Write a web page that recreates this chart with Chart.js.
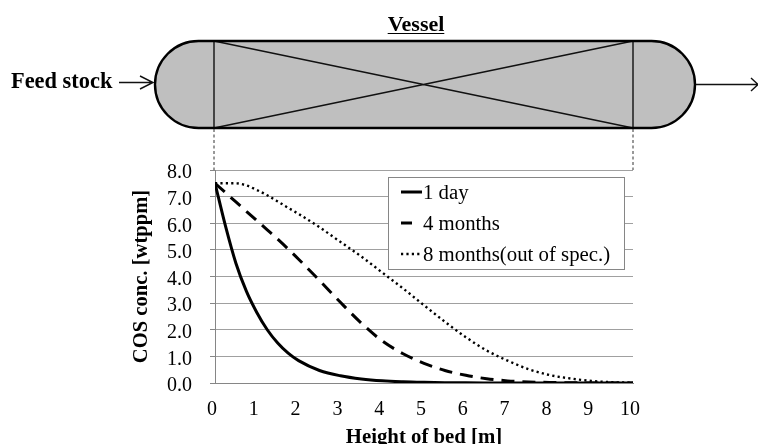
<!DOCTYPE html>
<html><head><meta charset="utf-8">
<script src="https://cdn.jsdelivr.net/npm/chart.js@4"></script>
<style>html,body{margin:0;padding:0;background:#fff}canvas{display:block}</style>
</head><body><canvas id="c" width="758" height="444"></canvas>
<script>
const heights = [0,0.25,0.5,0.75,1,1.25,1.5,1.75,2,2.5,3,3.5,4,4.5,5,5.5,6,6.5,7,7.5,8,8.5,9,9.5,10];
const day1 =    [7.5,5.9,4.5,3.45,2.65,2.0,1.5,1.12,0.84,0.47,0.27,0.15,0.08,0.045,0.025,0.012,0.006,0.003,0.001,0,0,0,0,0,0];
const months4 = [7.5,7.15,6.8,6.45,6.1,5.75,5.4,5.03,4.65,3.85,3.03,2.25,1.58,1.1,0.74,0.47,0.29,0.16,0.08,0.04,0.02,0.01,0,0,0];
const months8 = [7.5,7.5,7.5,7.42,7.25,7.05,6.82,6.58,6.35,5.85,5.3,4.75,4.15,3.55,2.92,2.3,1.72,1.22,0.84,0.52,0.3,0.17,0.08,0.03,0.01];
const seriesNames = ['1 day','4 months','8 months(out of spec.)'];
const yTicks = [0,1,2,3,4,5,6,7,8];
const xTicks = [0,1,2,3,4,5,6,7,8,9,10];
const toPts = v => heights.map((h,i)=>({x:h,y:v[i]}));
const serif = '"Liberation Serif","Times New Roman",serif';
const gridCol = '#a0a0a0', axisCol = '#868686';
const dashes = [[], [13,8], [2.2,3.2]];

const diagram = {
  id:'diagram',
  afterDraw(ch){
    const c = ch.ctx, xs = ch.scales.x, ys = ch.scales.y;
    const xa = xs.getPixelForValue(0)-1, xb = xs.getPixelForValue(10), top = 41, bot = 128, r=(bot-top)/2;
    const L = 155, R = 695;
    c.save();
    c.beginPath();
    c.moveTo(L+r,top); c.lineTo(R-r,top);
    c.arc(R-r,top+r,r,-Math.PI/2,Math.PI/2);
    c.lineTo(L+r,bot);
    c.arc(L+r,top+r,r,Math.PI/2,Math.PI*1.5);
    c.closePath();
    c.fillStyle='#bfbfbf'; c.fill();
    c.strokeStyle='#111'; c.lineWidth=1.4;
    c.beginPath();
    c.moveTo(xa,top); c.lineTo(xa,bot); c.moveTo(xb,top); c.lineTo(xb,bot);
    c.moveTo(xa,top); c.lineTo(xb,bot); c.moveTo(xa,bot); c.lineTo(xb,top);
    c.stroke();
    c.beginPath();
    c.moveTo(L+r,top); c.lineTo(R-r,top);
    c.arc(R-r,top+r,r,-Math.PI/2,Math.PI/2);
    c.lineTo(L+r,bot);
    c.arc(L+r,top+r,r,Math.PI/2,Math.PI*1.5);
    c.closePath();
    c.lineWidth=2.4; c.strokeStyle='#000'; c.stroke();
    c.lineWidth=1.4; c.strokeStyle='#111';
    c.beginPath();
    c.moveTo(119,82.5); c.lineTo(153,82.5); c.moveTo(140,76); c.lineTo(153,82.5); c.lineTo(140,89);
    c.moveTo(696,84.5); c.lineTo(758,84.5); c.moveTo(751,78); c.lineTo(758,84.5); c.lineTo(751,91);
    c.stroke();
    c.setLineDash([3,2.5]); c.lineWidth=1; c.strokeStyle='#333';
    c.beginPath();
    c.moveTo(xa,129); c.lineTo(xa,ys.top); c.moveTo(xb,129); c.lineTo(xb,ys.top);
    c.stroke(); c.setLineDash([]);
    c.fillStyle='#000'; c.textBaseline='alphabetic'; c.textAlign='left';
    c.font='bold 22.4px '+serif;
    c.fillText('Feed stock',11,88);
    c.font='bold 22px '+serif;
    c.textAlign='center';
    c.fillText('Vessel',416,31);
    const w=c.measureText('Vessel').width;
    c.lineWidth=1; c.strokeStyle='#000';
    c.beginPath(); c.moveTo(416-w/2,33.5); c.lineTo(416+w/2,33.5); c.stroke();
    const bx=388.5,by=177.5,bw=236,bh=92;
    c.fillStyle='#fff'; c.fillRect(bx,by,bw,bh);
    c.strokeStyle='#868686'; c.strokeRect(bx,by,bw,bh);
    const rows=[192,223,254];
    c.textAlign='left'; c.font='20.8px '+serif; c.fillStyle='#000';
    ch.data.datasets.forEach((d,i)=>{
      c.strokeStyle='#000'; c.lineWidth=d.borderWidth; c.setLineDash(d.borderDash||[]);
      c.beginPath();
      c.moveTo(401,rows[i]); c.lineTo(i==1?412:422,rows[i]); c.stroke();
      c.setLineDash([]);
      c.fillText(d.label,423,rows[i]+7);
    });
    c.restore();
  }
};

new Chart(document.getElementById('c'),{
  type:'line',
  data:{datasets:[
    {label:seriesNames[0],data:toPts(day1),borderColor:'#000',borderWidth:3,borderDash:dashes[0],pointRadius:0,cubicInterpolationMode:'monotone'},
    {label:seriesNames[1],data:toPts(months4),borderColor:'#000',borderWidth:3,borderDash:dashes[1],pointRadius:0,cubicInterpolationMode:'monotone'},
    {label:seriesNames[2],data:toPts(months8),borderColor:'#000',borderWidth:2.4,borderDash:dashes[2],pointRadius:0,cubicInterpolationMode:'monotone'}
  ]},
  options:{
    responsive:false,animation:false,
    layout:{padding:{left:129,right:125,top:170,bottom:0}},
    plugins:{legend:{display:false},tooltip:{enabled:false},title:{display:false}},
    scales:{
      x:{type:'linear',min:0,max:10,
        afterBuildTicks(s){s.ticks=xTicks.map(v=>({value:v}));},
        afterFit(s){s.height=61;},
        grid:{display:false,drawTicks:true,tickLength:5,color:axisCol},
        border:{color:axisCol},
        ticks:{autoSkip:false,maxRotation:0,labelOffset:-3,color:'#000',font:{family:serif,size:20},padding:10,callback:v=>String(v)},
        title:{display:true,text:'Height of bed [m]',color:'#000',font:{family:serif,size:20.8,weight:'bold',lineHeight:1},padding:{top:0,bottom:-4}}
      },
      y:{min:0,max:8,
        afterBuildTicks(s){s.ticks=yTicks.map(v=>({value:v}));},
        afterFit(s){s.width=86;},
        grid:{color:gridCol,lineWidth:1,tickLength:5,tickColor:axisCol},
        border:{color:axisCol},
        ticks:{autoSkip:false,labelOffset:3,color:'#000',font:{family:serif,size:20},padding:18,callback:v=>Number(v).toFixed(1)},
        title:{display:true,text:'COS conc. [wtppm]',color:'#000',font:{family:serif,size:20.6,weight:'bold'},padding:{top:0,bottom:0}}
      }
    }
  },
  plugins:[diagram]
});
</script></body></html>
